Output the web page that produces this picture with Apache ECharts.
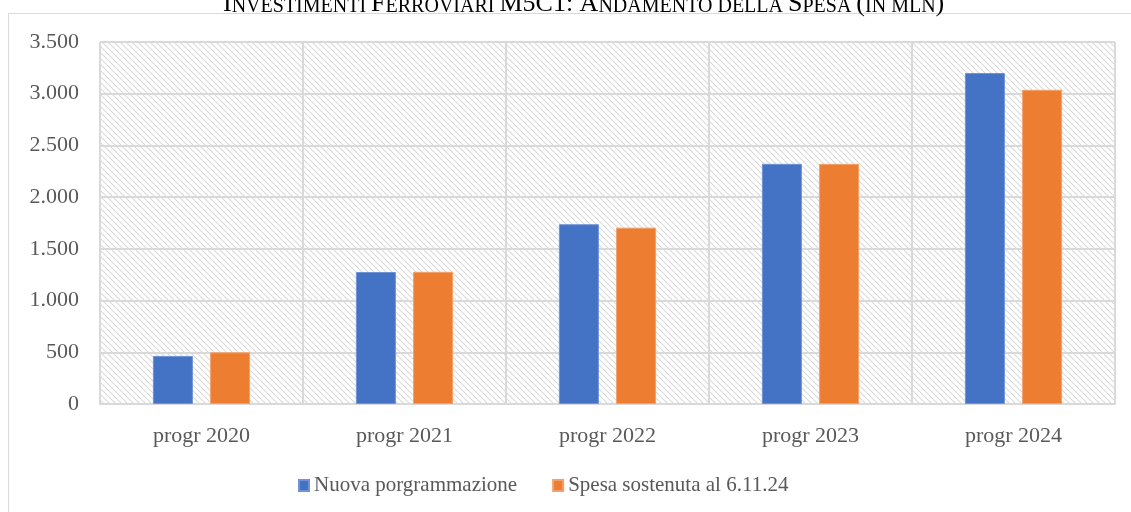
<!DOCTYPE html>
<html>
<head>
<meta charset="utf-8">
<script src="https://cdn.jsdelivr.net/npm/echarts@6/dist/echarts.min.js"></script>
<style>
    html, body { margin: 0; padding: 0; background: #fff; }
    #chart { width: 1131px; height: 512px; }
</style>
</head>
<body>
<div id="chart"></div>
<script>
// dati
var categorie = ['progr 2020', 'progr 2021', 'progr 2022', 'progr 2023', 'progr 2024'];
var nuovaProgr = [465, 1276, 1738, 2322, 3200];
var spesaSostenuta = [500, 1278, 1705, 2322, 3038];
var nomiSerie = ['Nuova porgrammazione', 'Spesa sostenuta al 6.11.24'];

window.onload = function () {
    var font = '"Liberation Serif", "Times New Roman", serif';

    // trama a righe diagonali per lo sfondo dell'area del grafico
    function hatch() {
        var c = document.createElement('canvas');
        c.width = 6;
        c.height = 6;
        var ctx = c.getContext('2d');
        ctx.fillStyle = '#ffffff';
        ctx.fillRect(0, 0, 6, 6);
        ctx.strokeStyle = '#dadada';
        ctx.lineWidth = 1.1;
        ctx.beginPath();
        ctx.moveTo(-1, -1); ctx.lineTo(7, 7);
        ctx.moveTo(-4, 2); ctx.lineTo(2, 8);
        ctx.moveTo(2, -4); ctx.lineTo(8, 2);
        ctx.stroke();
        return c;
    }

    var myChart = echarts.init(document.getElementById('chart'));
    var option = {
        animation: false,
        backgroundColor: '#ffffff',
        textStyle: { fontFamily: font },
        title: {
            text: '{b|I}{s|NVESTIMENTI }{b|F}{s|ERROVIARI }{b|M5C1: A}{s|NDAMENTO DELLA }{b|S}{s|PESA }{b|(}{s|IN MLN}{b|)}',
            left: 218,
            top: -14,
            textStyle: {
                fontWeight: 'normal',
                rich: {
                    b: { fontFamily: font, fontSize: 26, fontWeight: 'normal', color: '#000' },
                    s: { fontFamily: font, fontSize: 20, fontWeight: 'normal', color: '#000', verticalAlign: 'bottom' }
                }
            }
        },
        graphic: [{
            type: 'rect',
            shape: { x: 8.5, y: 13.5, width: 1140, height: 520 },
            style: { fill: null, stroke: '#d9d9d9', lineWidth: 1 },
            z: -1
        }],
        legend: {
            data: nomiSerie,
            bottom: 11,
            left: 293,
            icon: 'rect',
            itemWidth: 10,
            itemHeight: 11,
            itemGap: 35,
            textStyle: { fontFamily: font, fontSize: 21, color: '#595959' }
        },
        grid: {
            left: 100,
            right: 16,
            top: 42,
            bottom: 108,
            show: true,
            backgroundColor: { image: hatch(), repeat: 'repeat' },
            borderColor: '#d9d9d9',
            borderWidth: 1
        },
        xAxis: {
            type: 'category',
            data: categorie,
            axisLine: { show: true, lineStyle: { color: '#d9d9d9', width: 2 } },
            axisTick: { show: false },
            splitLine: { show: true, interval: 0, lineStyle: { color: '#d9d9d9', width: 2 } },
            axisLabel: { fontFamily: font, fontSize: 22, color: '#595959', margin: 21 }
        },
        yAxis: {
            type: 'value',
            min: 0,
            max: 3500,
            interval: 500,
            axisLine: { show: false },
            axisTick: { show: false },
            splitLine: { lineStyle: { color: '#d9d9d9', width: 2 } },
            axisLabel: {
                fontFamily: font, fontSize: 22, color: '#595959', margin: 21,
                formatter: function (v) {
                    return String(v).replace(/\B(?=(\d{3})+(?!\d))/g, '.');
                }
            }
        },
        series: [{
            name: nomiSerie[0],
            type: 'bar',
            data: nuovaProgr,
            barWidth: 40,
            barGap: '43%',
            itemStyle: { color: '#4472c4', borderColor: '#6f93d6', borderWidth: 1 }
        }, {
            name: nomiSerie[1],
            type: 'bar',
            data: spesaSostenuta,
            barWidth: 40,
            itemStyle: { color: '#ed7d31', borderColor: '#f3a06a', borderWidth: 1 }
        }]
    };
    myChart.setOption(option);
};
</script>
</body>
</html>
